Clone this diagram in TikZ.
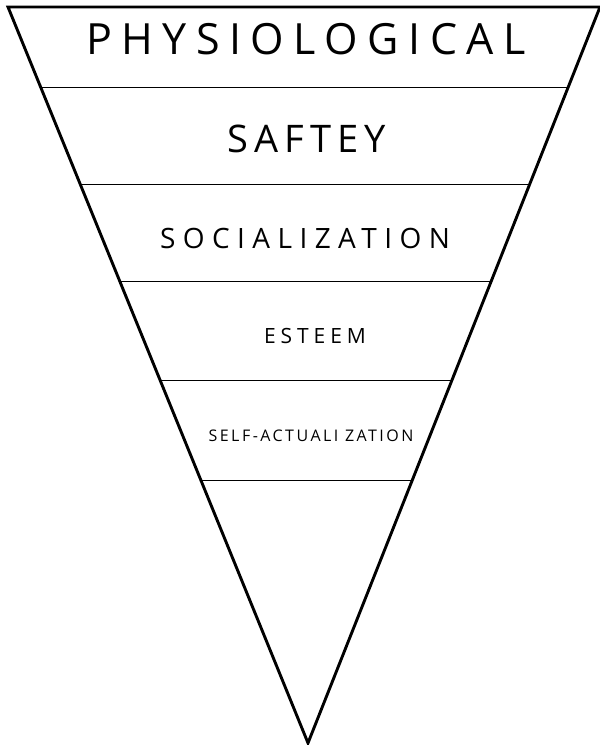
\documentclass[tikz,border=0pt]{standalone}
\usepackage{fontspec}
\setmainfont{Open Sans}
\usetikzlibrary{calc}
\begin{document}
\begin{tikzpicture}[x=1pt,y=-1pt,
  side/.style={line width=2.9pt,line join=miter},
  band/.style={line width=1pt},
  lbl/.style={anchor=base,inner sep=0pt}]
\useasboundingbox (0,0) rectangle (600,745);
\coordinate (tl) at (8,7);
\coordinate (tr) at (600,7);
\coordinate (ap) at (308,743);
\draw[side] (tl) -- (tr) -- (ap) -- cycle;
\foreach \y/\n in {88/a,185/b,282/c,380/d,480/e}{
  \coordinate (l\n) at ($(tl)!{(\y-7)/736}!(ap)$);
  \coordinate (r\n) at ($(tr)!{(\y-7)/736}!(ap)$);
  \draw[band] (l\n) -- (r\n);
}
\node[lbl] (t1) at (306,54) {\fontsize{43}{43}\selectfont\addfontfeature{LetterSpace=22}PHYSIOLOGICAL};
\node[lbl] (t2) at (307,152) {\fontsize{38}{38}\selectfont\addfontfeature{LetterSpace=16}SAFTEY};
\node[lbl] (t3) at (305,248) {\fontsize{28}{28}\selectfont\addfontfeature{LetterSpace=26.5}SOCIALIZATION};
\node[lbl] (t4) at (315,343) {\fontsize{21}{21}\selectfont\addfontfeature{LetterSpace=23.5}ESTEEM};
\node[lbl] (t5) at (311,441) {\fontsize{16}{16}\selectfont\addfontfeature{LetterSpace=15.5}SELF-ACTUALI ZATION};
\end{tikzpicture}
\end{document}
